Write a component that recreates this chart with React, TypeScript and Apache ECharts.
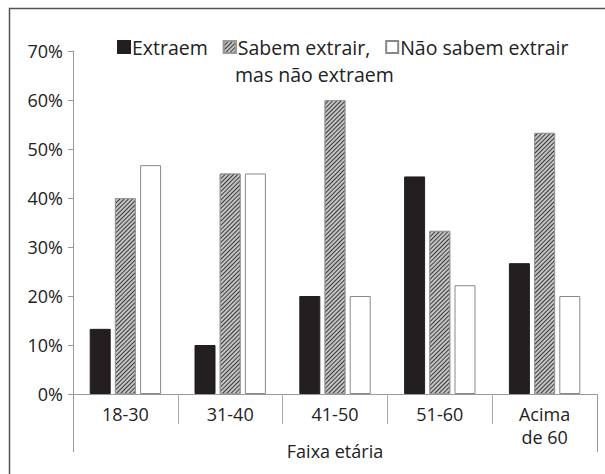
import React, { useEffect, useRef } from "react";
import * as echarts from "echarts";

const categories = ["18-30", "31-40", "41-50", "51-60", "Acima\nde 60"];
const groupLabel = ["Faixa etária"];
const extraem = [13.3, 10, 20, 44.4, 26.7];
const sabem = [40, 45, 60, 33.3, 53.3];
const naoSabem = [46.7, 45, 20, 22.2, 20];
const seriesNames = ["Extraem", "Sabem extrair,", "Não sabem extrair"];
const legendSecondLine = "mas não extraem";

const FONT = "'Open Sans', Lato, sans-serif";
const FS = 18;
const LFS = 19.5;

export default function App() {
  const ref = useRef<HTMLDivElement>(null);
  useEffect(() => {
    if (!ref.current) return;
    const chart = echarts.init(ref.current, undefined, { renderer: "svg" });
    chart.setOption({
      animation: false,
      backgroundColor: "#fff",
      textStyle: { fontFamily: FONT },
      grid: { left: 73, right: 8, top: 51, bottom: 80, containLabel: false },
      legend: {
        left: 117,
        top: 37,
        padding: 0,
        itemWidth: 12,
        itemHeight: 12,
        itemGap: 15,
        icon: "rect",
        selectedMode: false,
        textStyle: { fontSize: LFS, lineHeight: 20, color: "#222", fontFamily: FONT, padding: [0, 0, 0, -3] },
        data: seriesNames,
      },
      xAxis: [
        {
          type: "category",
          data: categories,
          position: "bottom",
          axisLine: { show: true, lineStyle: { color: "#999", width: 1 } },
          axisTick: { show: true, length: 30, alignWithLabel: false, lineStyle: { color: "#aaa" } },
          axisLabel: { fontSize: FS, color: "#222", margin: 8, lineHeight: 23, fontFamily: FONT },
        },
        {
          type: "category",
          data: groupLabel,
          position: "bottom",
          axisLine: { show: false },
          axisTick: { show: true, length: 58, alignWithLabel: false, lineStyle: { color: "#999" } },
          axisLabel: { fontSize: FS, color: "#222", margin: 48, fontFamily: FONT },
        },
      ],
      yAxis: {
        type: "value",
        min: 0,
        max: 70,
        interval: 10,
        axisLine: { show: true, lineStyle: { color: "#999" } },
        axisTick: { show: true, length: 5, lineStyle: { color: "#999" } },
        splitLine: { show: false },
        axisLabel: { formatter: "{value}%", fontSize: FS, color: "#222", margin: 10, fontFamily: FONT },
      },
      series: [
        {
          name: seriesNames[0],
          type: "bar",
          data: extraem,
          barWidth: 21,
          barGap: "20%",
          itemStyle: { color: "#231f20", borderColor: "#231f20", borderWidth: 1 },
        },
        {
          name: seriesNames[1],
          type: "bar",
          data: sabem,
          barWidth: 21,
          barGap: "20%",
          itemStyle: {
            color: "#c4c4c4",
            borderColor: "#999",
            borderWidth: 1,
            decal: {
              symbol: "rect",
              dashArrayX: [1, 0],
              dashArrayY: [1, 1.2],
              rotation: -Math.PI / 4,
              color: "#3a3a3a",
              symbolSize: 1,
            },
          },
        },
        {
          name: seriesNames[2],
          type: "bar",
          data: naoSabem,
          barWidth: 21,
          barGap: "20%",
          itemStyle: { color: "#fff", borderColor: "#888", borderWidth: 1 },
        },
      ],
      graphic: [
        {
          type: "rect",
          silent: true,
          shape: { x: 9.5, y: 8.5, width: 800, height: 800 },
          style: { fill: "none", stroke: "#555", lineWidth: 1.5 },
        },
        {
          type: "text",
          left: 235,
          top: 64,
          style: { text: legendSecondLine, fontSize: LFS, lineHeight: 20, fill: "#222", fontFamily: FONT },
        },
      ],
    });
    return () => chart.dispose();
  }, []);
  return <div ref={ref} style={{ position: "fixed", left: 0, top: 0, width: 605, height: 474 }} />;
}
